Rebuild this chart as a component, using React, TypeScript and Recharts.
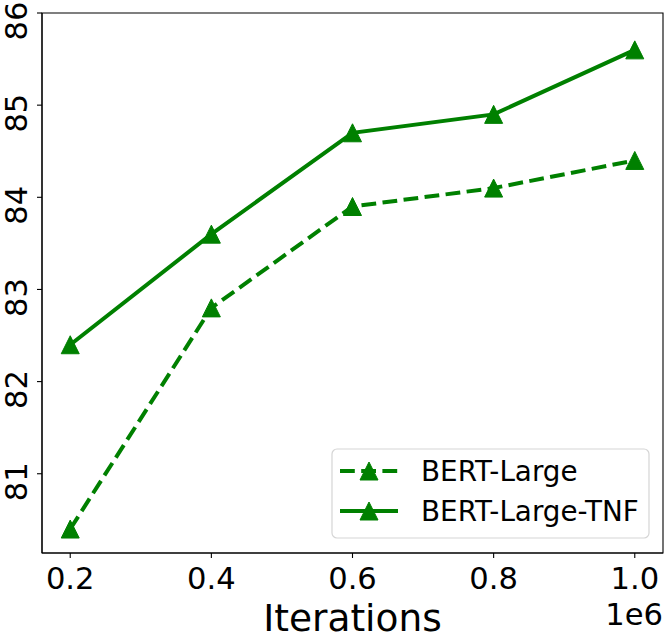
import { LineChart, Line, XAxis, YAxis, Legend, ReferenceArea } from "recharts";

const iterations = [200000, 400000, 600000, 800000, 1000000];
const bertLarge = [80.4, 82.8, 83.9, 84.1, 84.4];
const bertLargeTnf = [82.4, 83.6, 84.7, 84.9, 85.6];
const xTicks = [200000, 400000, 600000, 800000, 1000000];
const yTicks = [81, 82, 83, 84, 85, 86];
const xDomain = [160000, 1040000];
const yDomain = [80.14, 86];

const GREEN = "#008000";
const FONT = "DejaVu Sans, sans-serif";
const DASH = "14.8 6.4";

const data = iterations.map((it, i) => ({
  it,
  base: bertLarge[i],
  tnf: bertLargeTnf[i],
}));

// matplotlib "^" marker: triangle centred on the point, 18px box
function Triangle({ cx, cy, size = 9 }: { cx: number; cy: number; size?: number }) {
  return (
    <polygon
      points={`${cx},${cy - size} ${cx - size},${cy + size} ${cx + size},${cy + size}`}
      fill={GREEN}
      stroke={GREEN}
      strokeWidth={1}
    />
  );
}

function XTick(props: any) {
  const { x, y, payload } = props;
  return (
    <text x={x} y={y + 31} textAnchor="middle" fontFamily={FONT} fontSize={30.6} fill="#000">
      {(payload.value / 1e6).toFixed(1)}
    </text>
  );
}

function YTick(props: any) {
  const { x, y, payload } = props;
  const bx = x - 10;
  const by = y + 8;
  return (
    <text
      x={bx}
      y={by}
      textAnchor="middle"
      fontFamily={FONT}
      fontSize={30.6}
      fill="#000"
      transform={`rotate(-90, ${bx}, ${by})`}
    >
      {payload.value}
    </text>
  );
}

function XLabel(props: any) {
  const { x, y, width } = props.viewBox;
  return (
    <g>
      <text x={x + width / 2} y={y + 78} textAnchor="middle" fontFamily={FONT} fontSize={37.5} fill="#000">
        Iterations
      </text>
      <text x={x + width} y={y + 72} textAnchor="end" fontFamily={FONT} fontSize={30.6} fill="#000">
        1e6
      </text>
    </g>
  );
}

function LegendBox() {
  const rows = [
    { name: "BERT-Large", dash: DASH },
    { name: "BERT-Large-TNF", dash: undefined },
  ];
  return (
    <svg width={320} height={92} style={{ display: "block" }}>
      <rect x={1} y={1} width={317} height={89} rx={5} fill="rgba(255,255,255,0.8)" stroke="#d5d5d5" strokeWidth={1.2} />
      {rows.map((r, i) => {
        const cy = 23 + i * 40;
        return (
          <g key={r.name}>
            <line x1={9} x2={67} y1={cy} y2={cy} stroke={GREEN} strokeWidth={4} strokeDasharray={r.dash} />
            <Triangle cx={38} cy={cy} />
            <text x={90} y={cy + 10} fontFamily={FONT} fontSize={27.8} fill="#000">
              {r.name}
            </text>
          </g>
        );
      })}
    </svg>
  );
}

export default function App() {
  return (
    <div style={{ position: "absolute", left: 0, top: 0, width: 664, height: 639, background: "#fff" }}>
      <LineChart width={664} height={639} data={data} margin={{ top: 13, right: 1, bottom: 0, left: 0 }}>
        <XAxis
          dataKey="it"
          type="number"
          domain={xDomain}
          ticks={xTicks}
          allowDataOverflow
          height={86}
          tickSize={5}
          tickMargin={0}
          tick={<XTick />}
          axisLine={{ stroke: "#000", strokeWidth: 1.1 }}
          tickLine={{ stroke: "#000", strokeWidth: 1.1 }}
          label={<XLabel />}
        />
        <YAxis
          type="number"
          domain={yDomain}
          ticks={yTicks}
          allowDataOverflow
          width={42}
          tickSize={5}
          tickMargin={0}
          tick={<YTick />}
          axisLine={{ stroke: "#000", strokeWidth: 1.1 }}
          tickLine={{ stroke: "#000", strokeWidth: 1.1 }}
        />
        <ReferenceArea
          x1={xDomain[0]}
          x2={xDomain[1]}
          y1={yDomain[0]}
          y2={yDomain[1]}
          fill="none"
          fillOpacity={0}
          stroke="#000"
          strokeWidth={1.1}
          ifOverflow="visible"
        />
        <Legend
          layout="vertical"
          align="center"
          verticalAlign="middle"
          wrapperStyle={{ left: 331, top: 448, width: 320, height: 92 }}
          content={() => <LegendBox />}
        />
        <Line
          dataKey="base"
          stroke={GREEN}
          strokeWidth={4}
          strokeDasharray={DASH}
          dot={(p: any) => <Triangle key={`b${p.index}`} cx={p.cx} cy={p.cy} />}
          activeDot={false}
          isAnimationActive={false}
        />
        <Line
          dataKey="tnf"
          stroke={GREEN}
          strokeWidth={4}
          dot={(p: any) => <Triangle key={`t${p.index}`} cx={p.cx} cy={p.cy} />}
          activeDot={false}
          isAnimationActive={false}
        />
      </LineChart>
    </div>
  );
}
